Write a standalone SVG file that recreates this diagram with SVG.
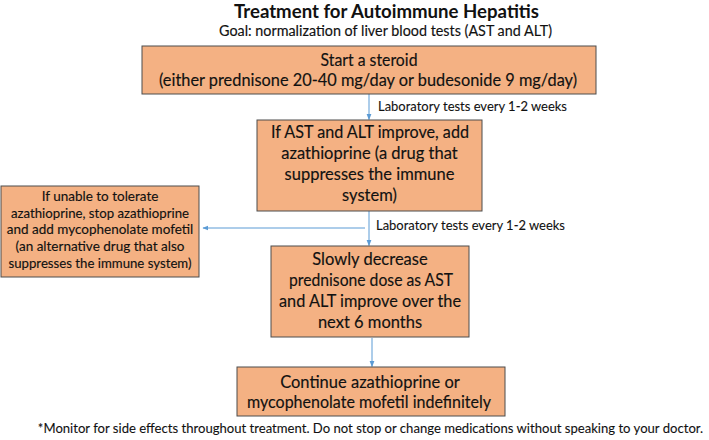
<svg xmlns="http://www.w3.org/2000/svg" width="709" height="440" viewBox="0 0 709 440">
<defs>
<marker id="ah" viewBox="0 0 10 10" refX="9" refY="5" markerWidth="6" markerHeight="6" orient="auto" markerUnits="userSpaceOnUse">
<path d="M0,1 L10,5 L0,9 z" fill="#5B9BD5"/>
</marker>
<style>
text{font-family:Lato,"Open Sans","Liberation Sans",sans-serif;fill:#111;stroke:#111;stroke-width:0.15px}
.box{fill:#F4B183;stroke:#4d4d4d;stroke-width:1}
.t{font-size:16.5px;text-anchor:middle}
.s{font-size:13.5px;text-anchor:middle}
.lab{font-size:13px;stroke-width:0.1px}
.con{stroke:#5B9BD5;stroke-width:1;fill:none;marker-end:url(#ah)}
</style>
</defs>
<text x="386.5" y="18" style="font-size:18.5px;font-weight:bold;text-anchor:middle;stroke-width:0" textLength="305" lengthAdjust="spacingAndGlyphs">Treatment for Autoimmune Hepatitis</text>
<text x="385.5" y="36" style="font-size:14.5px;text-anchor:middle" textLength="333" lengthAdjust="spacingAndGlyphs">Goal: normalization of liver blood tests (AST and ALT)</text>

<g id="connectors">
<line class="con" x1="369" y1="94" x2="369" y2="119.5"/>
<line class="con" x1="369" y1="211" x2="369" y2="245.5"/>
<line class="con" x1="365" y1="228" x2="203" y2="228"/>
<line class="con" x1="372" y1="338" x2="372" y2="366.5"/>
<text class="lab" x="378" y="111" textLength="189" lengthAdjust="spacingAndGlyphs">Laboratory tests every 1-2 weeks</text>
<text class="lab" x="376" y="230" textLength="189" lengthAdjust="spacingAndGlyphs">Laboratory tests every 1-2 weeks</text>
</g>

<g id="start-steroid">
<rect class="box" x="142" y="46" width="454" height="48"/>
<text class="t" x="369" y="66" textLength="97" lengthAdjust="spacingAndGlyphs">Start a steroid</text>
<text class="t" x="368" y="86" textLength="418" lengthAdjust="spacingAndGlyphs">(either prednisone 20-40 mg/day or budesonide 9 mg/day)</text>
</g>

<g id="add-azathioprine">
<rect class="box" x="257" y="120" width="225" height="91"/>
<text class="t" x="370" y="138" textLength="198" lengthAdjust="spacingAndGlyphs">If AST and ALT improve, add</text>
<text class="t" x="369.5" y="159">azathioprine (a drug that</text>
<text class="t" x="369.5" y="180">suppresses the immune</text>
<text class="t" x="369.5" y="201">system)</text>
</g>

<g id="mycophenolate">
<rect class="box" x="1" y="186" width="198" height="91"/>
<text class="s" x="100" y="201">If unable to tolerate</text>
<text class="s" x="100" y="218" textLength="178" lengthAdjust="spacingAndGlyphs">azathioprine, stop azathioprine</text>
<text class="s" x="100" y="234">and add mycophenolate mofetil</text>
<text class="s" x="100" y="251">(an alternative drug that also</text>
<text class="s" x="100" y="268" textLength="183" lengthAdjust="spacingAndGlyphs">suppresses the immune system)</text>
</g>

<g id="decrease-prednisone">
<rect class="box" x="271" y="246" width="198" height="91"/>
<text class="t" x="370" y="265">Slowly decrease</text>
<text class="t" x="371" y="286" textLength="164" lengthAdjust="spacingAndGlyphs">prednisone dose as AST</text>
<text class="t" x="370" y="307" textLength="182" lengthAdjust="spacingAndGlyphs">and ALT improve over the</text>
<text class="t" x="370" y="328">next 6 months</text>
</g>

<g id="continue">
<rect class="box" x="237" y="367" width="268" height="49"/>
<text class="t" x="370" y="388">Continue azathioprine or</text>
<text class="t" x="369" y="408" textLength="244" lengthAdjust="spacingAndGlyphs">mycophenolate mofetil indefinitely</text>
</g>

<text transform="translate(370.5,433) scale(0.88,1)" x="0" y="0" style="font-size:13.5px;text-anchor:middle;stroke-width:0.1px" textLength="756" lengthAdjust="spacingAndGlyphs">*Monitor for side effects throughout treatment. Do not stop or change medications without speaking to  your doctor.</text>
</svg>
